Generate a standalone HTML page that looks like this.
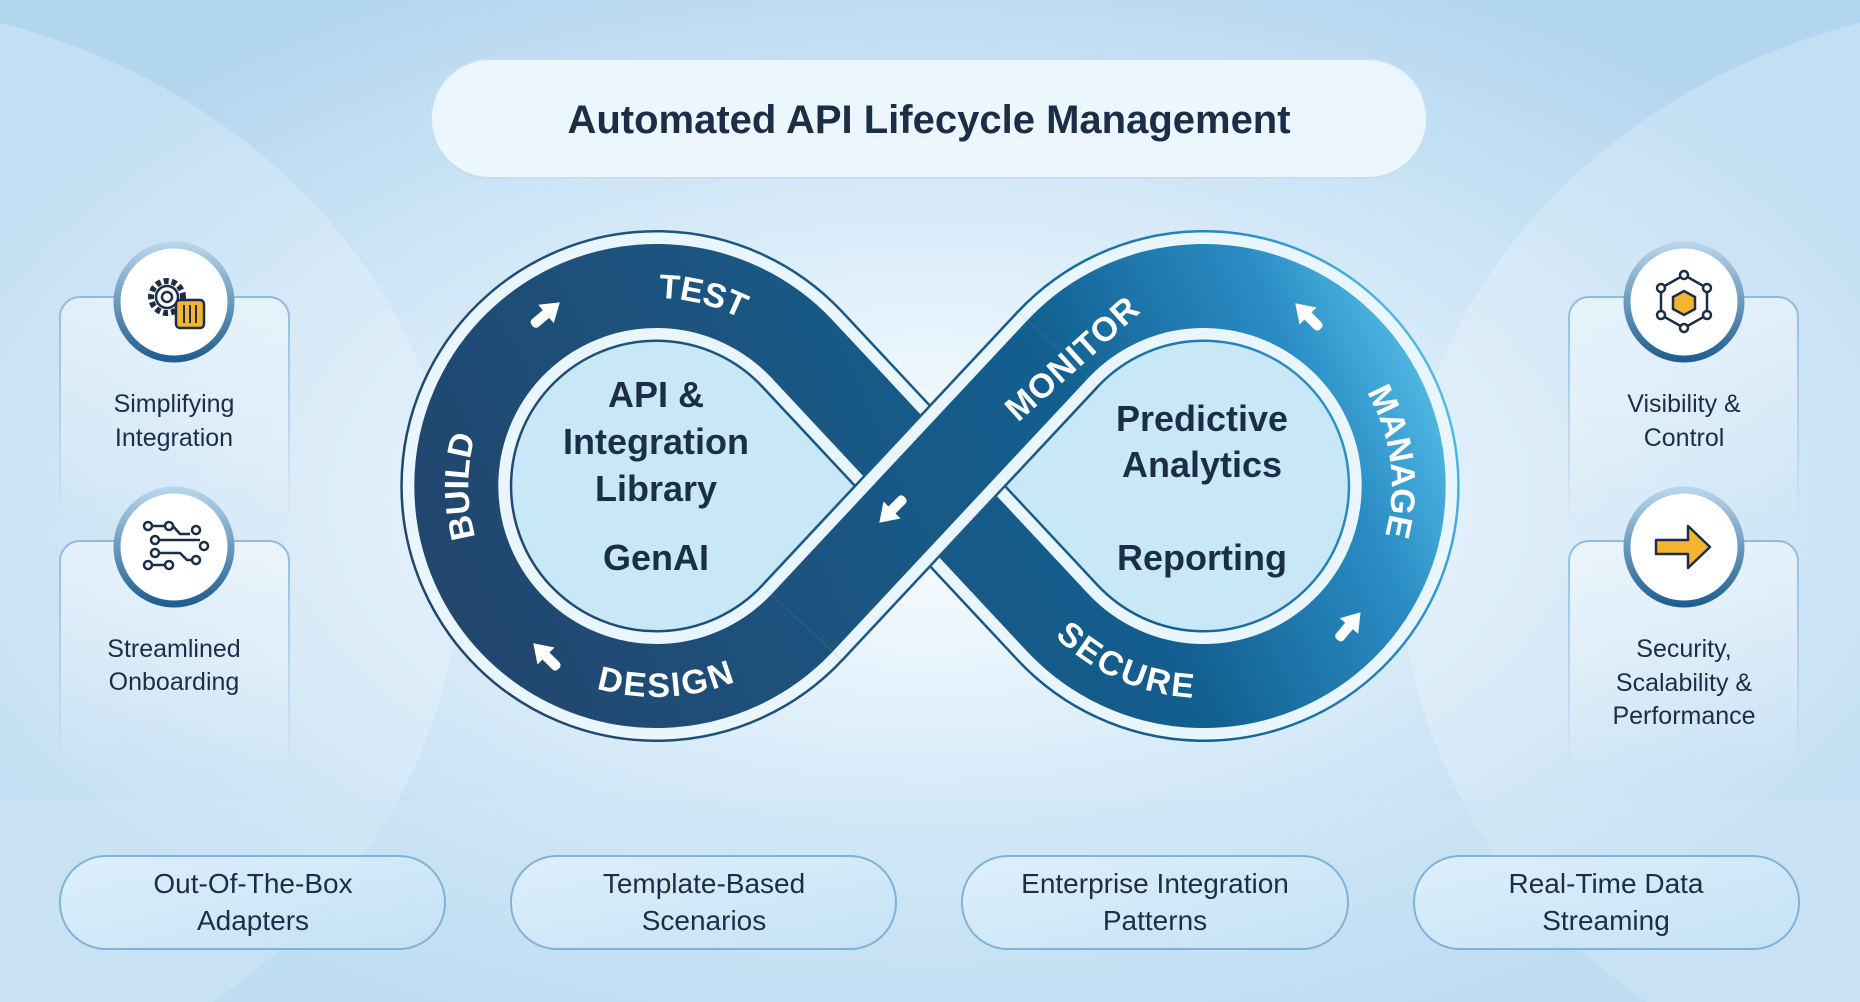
<!DOCTYPE html>
<html><head><meta charset="utf-8"><style>
html,body{margin:0;padding:0;width:1860px;height:1002px;overflow:hidden;background:#d5eaf8;position:relative}
svg{display:block;position:absolute;left:0;top:0}
text{font-family:"Liberation Sans",sans-serif}
</style></head><body>
<svg width="1860" height="1002" viewBox="0 0 1860 1002" xmlns="http://www.w3.org/2000/svg">
<defs>
<radialGradient id="bg" cx="50%" cy="50%" r="58%">
<stop offset="0" stop-color="#ffffff"/><stop offset="0.3" stop-color="#e6f3fc"/><stop offset="1" stop-color="#b3d6f0"/>
</radialGradient>
<linearGradient id="band" x1="420" y1="741" x2="1440" y2="280" gradientUnits="userSpaceOnUse">
<stop offset="0" stop-color="#23426a"/><stop offset="0.4" stop-color="#1b5580"/><stop offset="0.65" stop-color="#125f90"/><stop offset="0.85" stop-color="#2a8cc4"/><stop offset="1" stop-color="#60cbf2"/>
</linearGradient>
<linearGradient id="ring" x1="0" y1="0" x2="0" y2="1">
<stop offset="0" stop-color="#b7d4ea"/><stop offset="1" stop-color="#1f5f90"/>
</linearGradient>
<linearGradient id="card" x1="0" y1="0" x2="0" y2="1">
<stop offset="0" stop-color="#ffffff" stop-opacity="0.45"/><stop offset="1" stop-color="#ffffff" stop-opacity="0"/>
</linearGradient>
<linearGradient id="cardS" x1="0" y1="0" x2="0" y2="1">
<stop offset="0" stop-color="#8fbbe0"/><stop offset="1" stop-color="#8fbbe0" stop-opacity="0"/>
</linearGradient>
<linearGradient id="pill" x1="0" y1="0" x2="1" y2="1">
<stop offset="0" stop-color="#e2f2fc"/><stop offset="1" stop-color="#c4e2f6"/>
</linearGradient>
<path id="pTest" d="M 512 347 A 200 200 0 0 1 848 431"/>
<path id="pBuild" d="M 556 659 A 200 200 0 0 1 556 313"/>
<path id="pDesign" d="M 464 541 A 200 200 0 0 0 848 541"/>
<path id="pManage" d="M 1304 313 A 200 200 0 0 1 1304 659"/>
<path id="pSecure" d="M 1012 541 A 200 200 0 0 0 1347 626"/>
<g id="arr"><rect x="-5" y="-4" width="10" height="22" rx="4" fill="#fff"/><polygon points="0,-18 -12,0 12,0" fill="#fff"/></g>
</defs>
<rect width="1860" height="1002" fill="url(#bg)"/>
<ellipse cx="-180" cy="560" rx="640" ry="560" fill="#ffffff" opacity="0.22"/>
<ellipse cx="2040" cy="560" rx="640" ry="560" fill="#ffffff" opacity="0.22"/>
<rect x="0" y="800" width="1860" height="202" fill="#cfe6f6" opacity="0.4"/>

<rect x="431" y="59" width="996" height="119" rx="59" fill="#f2f9fe" fill-opacity="0.85" stroke="#c6def0" stroke-width="2"/>
<text x="929" y="133" text-anchor="middle" font-size="40" font-weight="bold" fill="#1c2e47">Automated API Lifecycle Management</text>

<g fill="none">
<path d="M 930 486 L 1058 349 A 200 200 0 1 1 1058 623 L 930 486 L 802 349 A 200 200 0 1 0 802 623 Z" fill="#c8e8f8" stroke="url(#band)" stroke-width="112"/>
<path d="M 930 486 L 1058 349 A 200 200 0 1 1 1058 623 L 930 486 L 802 349 A 200 200 0 1 0 802 623 Z" stroke="#eaf6fd" stroke-width="107"/>
<path d="M 930 486 L 1058 349 A 200 200 0 1 1 1058 623 L 930 486 L 802 349 A 200 200 0 1 0 802 623 Z" stroke="url(#band)" stroke-width="84"/>
<line x1="1058" y1="349" x2="802" y2="623" stroke="#1d5a88" stroke-width="112"/>
<line x1="1058" y1="349" x2="802" y2="623" stroke="#eaf6fd" stroke-width="107"/>
<line x1="1058" y1="349" x2="802" y2="623" stroke="url(#band)" stroke-width="84"/>
</g>
<g font-size="34" font-weight="bold" fill="#fff" letter-spacing="1">
<text dy="12"><textPath href="#pTest" startOffset="50%" text-anchor="middle">TEST</textPath></text>
<text dy="12"><textPath href="#pBuild" startOffset="50%" text-anchor="middle">BUILD</textPath></text>
<text dy="12"><textPath href="#pDesign" startOffset="52%" text-anchor="middle">DESIGN</textPath></text>
<text dy="12"><textPath href="#pManage" startOffset="44%" text-anchor="middle">MANAGE</textPath></text>
<text dy="12"><textPath href="#pSecure" startOffset="42%" text-anchor="middle">SECURE</textPath></text>
<text x="1072" y="370" text-anchor="middle" transform="rotate(-42 1072 358)">MONITOR</text>
</g>
<use href="#arr" transform="translate(546,314) rotate(50)"/>
<use href="#arr" transform="translate(546,656) rotate(-45)"/>
<use href="#arr" transform="translate(892,510) rotate(-135)"/>
<use href="#arr" transform="translate(1308,316) rotate(-45)"/>
<use href="#arr" transform="translate(1349,626) rotate(40)"/>

<g font-size="36" font-weight="bold" fill="#1c2e47" text-anchor="middle">
<text x="656" y="407">API &amp;</text>
<text x="656" y="454">Integration</text>
<text x="656" y="501">Library</text>
<text x="656" y="570">GenAI</text>
<text x="1202" y="431">Predictive</text>
<text x="1202" y="477">Analytics</text>
<text x="1202" y="570">Reporting</text>
</g>

<g fill="url(#card)" stroke="url(#cardS)" stroke-width="2">
<rect x="60" y="297" width="229" height="230" rx="20"/>
<rect x="60" y="541" width="229" height="230" rx="20"/>
<rect x="1569" y="297" width="229" height="230" rx="20"/>
<rect x="1569" y="541" width="229" height="230" rx="20"/>
</g>
<g fill="#fff" stroke="url(#ring)" stroke-width="7">
<circle cx="174" cy="302" r="57"/><circle cx="174" cy="547" r="57"/>
<circle cx="1684" cy="302" r="57"/><circle cx="1684" cy="547" r="57"/>
</g>
<g stroke="#1c2e47" stroke-width="2.5" fill="none">
<circle cx="167" cy="297" r="16" stroke-dasharray="5 3" stroke-width="6"/>
<circle cx="167" cy="297" r="11"/><circle cx="167" cy="297" r="5"/>
</g>
<rect x="176" y="300" width="28" height="28" rx="4" fill="#f3b52f" stroke="#1c2e47" stroke-width="2.5"/>
<g stroke="#1c2e47" stroke-width="2"><line x1="184" y1="305" x2="184" y2="323"/><line x1="190" y1="305" x2="190" y2="323"/><line x1="196" y1="305" x2="196" y2="323"/></g>
<g stroke="#1c2e47" stroke-width="2.5" fill="none">
<circle cx="148" cy="526" r="4"/><line x1="152" y1="526" x2="165" y2="526"/><circle cx="169" cy="526" r="4"/>
<path d="M173 526 L180 534 L190 534"/><circle cx="196" cy="530" r="4"/>
<circle cx="155" cy="540" r="4"/><line x1="159" y1="540" x2="200" y2="540"/><circle cx="204" cy="546" r="4"/>
<circle cx="155" cy="553" r="4"/><path d="M159 553 L180 553 L187 560 L192 560"/><circle cx="196" cy="560" r="4"/>
<circle cx="148" cy="565" r="4"/><line x1="152" y1="565" x2="165" y2="565"/><circle cx="169" cy="565" r="4"/>
</g>
<g stroke="#1c2e47" stroke-width="2.5" fill="none">
<polygon points="1684,275 1707,288 1707,315 1684,328 1661,315 1661,288"/>
<polygon points="1684,291 1695,297 1695,309 1684,315 1673,309 1673,297" fill="#f3b52f"/>
</g>
<g fill="#fff" stroke="#1c2e47" stroke-width="2.5"><circle cx="1684" cy="275" r="4"/><circle cx="1707" cy="288" r="4"/><circle cx="1707" cy="315" r="4"/><circle cx="1684" cy="328" r="4"/><circle cx="1661" cy="315" r="4"/><circle cx="1661" cy="288" r="4"/></g>
<path d="M1656 540 L1688 540 L1688 526 L1710 547 L1688 568 L1688 554 L1656 554 Z" fill="#f3b52f" stroke="#1c2e47" stroke-width="2.5" stroke-linejoin="round"/>

<g font-size="25" fill="#1c2e47" text-anchor="middle">
<text x="174" y="412">Simplifying</text><text x="174" y="446">Integration</text>
<text x="174" y="657">Streamlined</text><text x="174" y="690">Onboarding</text>
<text x="1684" y="412">Visibility &amp;</text><text x="1684" y="446">Control</text>
<text x="1684" y="657">Security,</text><text x="1684" y="691">Scalability &amp;</text><text x="1684" y="724">Performance</text>
</g>

<g fill="url(#pill)" fill-opacity="0.8" stroke="#7eb2d8" stroke-width="2">
<rect x="60" y="856" width="385" height="93" rx="46"/>
<rect x="511" y="856" width="385" height="93" rx="46"/>
<rect x="962" y="856" width="386" height="93" rx="46"/>
<rect x="1414" y="856" width="385" height="93" rx="46"/>
</g>
<g font-size="28" fill="#1c2e47" text-anchor="middle">
<text x="253" y="893">Out-Of-The-Box</text><text x="253" y="930">Adapters</text>
<text x="704" y="893">Template-Based</text><text x="704" y="930">Scenarios</text>
<text x="1155" y="893">Enterprise Integration</text><text x="1155" y="930">Patterns</text>
<text x="1606" y="893">Real-Time Data</text><text x="1606" y="930">Streaming</text>
</g>
</svg>
</body></html>
